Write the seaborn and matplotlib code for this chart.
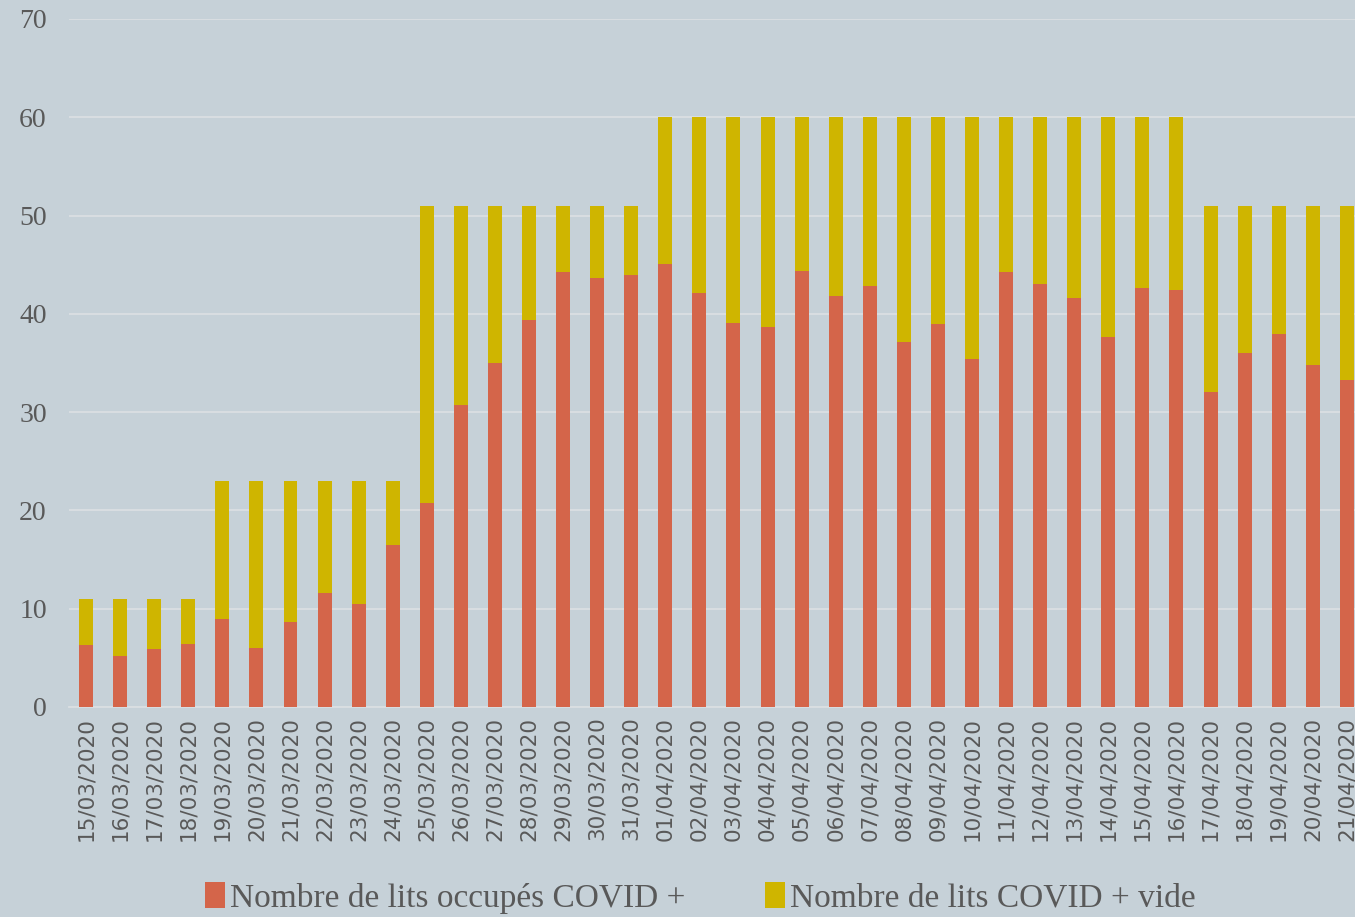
import numpy as np
import pandas as pd
import matplotlib
matplotlib.use("Agg")
import matplotlib.pyplot as plt
import seaborn as sns
from matplotlib.patches import Patch
from matplotlib.ticker import FixedLocator

# dates (x axis)
dates = ["15/03/2020", "16/03/2020", "17/03/2020", "18/03/2020", "19/03/2020",
         "20/03/2020", "21/03/2020", "22/03/2020", "23/03/2020", "24/03/2020",
         "25/03/2020", "26/03/2020", "27/03/2020", "28/03/2020", "29/03/2020",
         "30/03/2020", "31/03/2020", "01/04/2020", "02/04/2020", "03/04/2020",
         "04/04/2020", "05/04/2020", "06/04/2020", "07/04/2020", "08/04/2020",
         "09/04/2020", "10/04/2020", "11/04/2020", "12/04/2020", "13/04/2020",
         "14/04/2020", "15/04/2020", "16/04/2020", "17/04/2020", "18/04/2020",
         "19/04/2020", "20/04/2020", "21/04/2020"]

# lits occupes COVID +
occupes = [6.3, 5.2, 5.9, 6.4, 9.0, 6.0, 8.6, 11.6, 10.5, 16.5,
           20.8, 30.7, 35.0, 39.4, 44.3, 43.6, 44.0, 45.1, 42.1, 39.1,
           38.7, 44.4, 41.8, 42.8, 37.1, 39.0, 35.4, 44.3, 43.0, 41.6,
           37.6, 42.6, 42.4, 32.0, 36.0, 38.0, 34.8, 33.3]

# lits COVID + vides
vides = [4.7, 5.8, 5.1, 4.6, 14.0, 17.0, 14.4, 11.4, 12.5, 6.5,
         30.2, 20.3, 16.0, 11.6, 6.7, 7.4, 7.0, 14.9, 17.9, 20.9,
         21.3, 15.6, 18.2, 17.2, 22.9, 21.0, 24.6, 15.7, 17.0, 18.4,
         22.4, 17.4, 17.6, 19.0, 15.0, 13.0, 16.2, 17.7]

labels = ["Nombre de lits occupés COVID +", "Nombre de lits COVID + vide"]

rouge = "#d4654a"
jaune = "#cfb500"
fond = "#c6d1d8"
gris = "#595959"

df = pd.DataFrame({"date": dates, "occupes": occupes, "vides": vides})
df["total"] = df["occupes"] + df["vides"]

sns.set_style("white")
fig = plt.figure(figsize=(13.55, 9.17), dpi=100)
fig.patch.set_facecolor(fond)
ax = fig.add_axes([69 / 1355, 1 - 707 / 917, 1 - 69 / 1355, (707 - 19) / 917])
ax.set_facecolor(fond)

# empile : total en jaune puis occupes en rouge par-dessus
sns.barplot(data=df, x="date", y="total", color=jaune, width=0.41,
            saturation=1, ax=ax, zorder=3, linewidth=0)
sns.barplot(data=df, x="date", y="occupes", color=rouge, width=0.41,
            saturation=1, ax=ax, zorder=3, linewidth=0)

ax.set_ylim(0, 70)
ax.set_xlim(-0.5, 37.24)
ax.set_yticks(range(0, 71, 10))
ax.grid(axis="y", color="#dadfe2", linewidth=1.3, zorder=0)
ax.set_axisbelow(True)
for s in ["top", "right", "left"]:
    ax.spines[s].set_visible(False)
ax.spines["bottom"].set_color("#dadfe2")
ax.spines["bottom"].set_linewidth(1.3)
ax.set_xlabel("")
ax.set_ylabel("")

ax.tick_params(axis="y", length=0, pad=16, labelcolor=gris, labelsize=20)
for t in ax.get_yticklabels():
    t.set_fontfamily("Liberation Serif")
ax.tick_params(axis="x", which="major", length=0, pad=7, labelcolor=gris,
               labelsize=15.5, rotation=90)
ax.xaxis.set_minor_locator(FixedLocator(np.arange(-0.5, 38, 1)))
ax.tick_params(axis="x", which="minor", length=7, width=1.3, color="#dadfe2")

handles = [Patch(facecolor=rouge, edgecolor="none"),
           Patch(facecolor=jaune, edgecolor="none")]
fig.legend(handles, labels, loc="center", bbox_to_anchor=(0.517, 1 - 898 / 917),
           ncol=2, frameon=False, handlelength=0.6, handleheight=0.8,
           handletextpad=0.15, columnspacing=2.4,
           prop={"family": "Liberation Serif", "size": 24}, labelcolor=gris)

plt.savefig("out.png", dpi=100, facecolor=fond)
